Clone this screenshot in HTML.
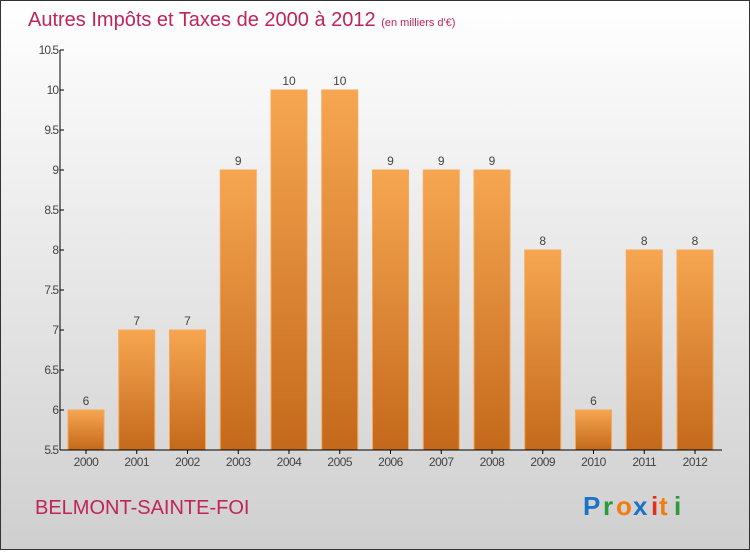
<!DOCTYPE html>
<html><head><meta charset="utf-8"><style>
html,body{margin:0;padding:0;}
body{width:750px;height:550px;overflow:hidden;font-family:"Liberation Sans",sans-serif;}
</style></head><body>
<svg width="750" height="550" xmlns="http://www.w3.org/2000/svg">
<defs>
<linearGradient id="bg" x1="0" y1="0" x2="0" y2="1"><stop offset="0" stop-color="#ffffff"/><stop offset="1" stop-color="#cfcfcf"/></linearGradient>
<linearGradient id="bar" x1="0" y1="0" x2="0" y2="1"><stop offset="0" stop-color="#f6a651"/><stop offset="1" stop-color="#c4691b"/></linearGradient>
</defs>
<rect x="0.5" y="0.5" width="749" height="549" fill="url(#bg)" stroke="#333"/>
<text x="28" y="26" font-size="20" fill="#c0245a">Autres Impôts et Taxes de 2000 à 2012 <tspan font-size="11">(en milliers d'€)</tspan></text>
<g id="yaxis"></g>
<g id="bars"></g>
<g id="xaxis"></g>
<text x="35" y="514" font-size="20" fill="#c0245a">BELMONT-SAINTE-FOI</text>
<g font-size="26" font-weight="bold" font-family="Liberation Sans, sans-serif">
<text x="583" y="515" fill="#1a73c9">P</text><text x="603" y="515" fill="#2a9a3a">r</text><text x="616" y="515" fill="#f07d10">o</text><text x="633" y="515" fill="#1a73c9">x</text><text x="651" y="515" fill="#e03020">i</text><text x="659" y="515" fill="#f07d10">t</text><text x="674" y="515" fill="#2a9a3a">i</text>
</g>
</svg>
<script>
const categories=["2000","2001","2002","2003","2004","2005","2006","2007","2008","2009","2010","2011","2012"];
const values=[6,7,7,9,10,10,9,9,9,8,6,8,8];
const labels=["6","7","7","9","10","10","9","9","9","8","6","8","8"];
const yTicks=[5.5,6,6.5,7,7.5,8,8.5,9,9.5,10,10.5];
const NS="http://www.w3.org/2000/svg";
const y=v=>450-(v-5.5)*80;
const x=i=>86+i*50.75;
function mk(t,a,p,txt){const e=document.createElementNS(NS,t);for(const k in a)e.setAttribute(k,a[k]);if(txt!==undefined)e.textContent=txt;p.appendChild(e);return e;}
const ya=document.getElementById('yaxis'),ba=document.getElementById('bars'),xa=document.getElementById('xaxis');
const ax=mk('line',{x1:60,y1:50,x2:60,y2:450,stroke:'#000'},ya);


yTicks.forEach(t=>{
 const l=mk('line',{x1:60,y1:y(t),x2:64,y2:y(t),stroke:'#000'},ya);
 
 
 const tx=mk('text',{x:58,y:y(t)+4,'text-anchor':'end','font-size':12,fill:'#444','letter-spacing':'-1'},ya,String(t));
 
 
});
const xl=mk('line',{x1:60,y1:450,x2:722,y2:450,stroke:'#000'},xa);


categories.forEach((c,i)=>{
 const r=mk('rect',{x:x(i)-18,y:y(values[i]),width:36,height:450-y(values[i]),fill:'url(#bar)',stroke:'#f7a85a','stroke-width':1},ba);
 
 
 const v=mk('text',{x:x(i),y:y(values[i])-5,'text-anchor':'middle','font-size':12,fill:'#444'},ba,labels[i]);
 
 
 const tk=mk('line',{x1:x(i),y1:450,x2:x(i),y2:454,stroke:'#000'},xa);
 
 
 const t=mk('text',{x:x(i),y:466,'text-anchor':'middle','font-size':12,fill:'#444','letter-spacing':'-0.5'},xa,c);
 
 
});
</script>
</body></html>
